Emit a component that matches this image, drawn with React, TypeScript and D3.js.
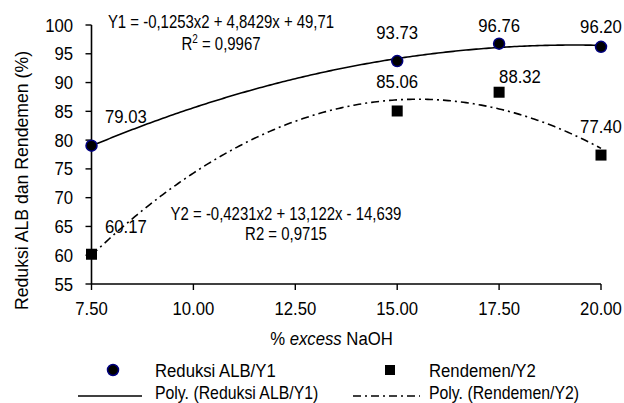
import React from "react";
import * as d3 from "d3";

const xValues = [7.5, 15, 17.5, 20];
const reduksiALB = [79.03, 93.73, 96.76, 96.2];
const rendemen = [60.17, 85.06, 88.32, 77.4];
const xTicks = [7.5, 10, 12.5, 15, 17.5, 20];
const yTicks = [55, 60, 65, 70, 75, 80, 85, 90, 95, 100];
const eqY1 = ["Y1 = -0,1253x2 + 4,8429x + 49,71", "R² = 0,9967"];
const eqY2 = ["Y2 = -0,4231x2 + 13,122x - 14,639", "R2 = 0,9715"];
const yTitle = "Reduksi ALB dan Rendemen  (%)";
const legendNames = ["Reduksi ALB/Y1", "Rendemen/Y2", "Poly. (Reduksi ALB/Y1)", "Poly. (Rendemen/Y2)"];

// label layout offsets (relative to points): [dx, dy, anchor]
const y1LabelOffsets: [number, number, string][] = [[13.5, -23, "start"], [0, -22, "middle"], [0, -12, "middle"], [0, -14, "middle"]];
const y2LabelOffsets: [number, number, string][] = [[13.5, -21, "start"], [0, -23, "middle"], [0, -9, "start"], [0, -22, "middle"]];

function quadFit(xs: number[], ys: number[]) {
  // least squares y = a x^2 + b x + c
  let s0 = xs.length, s1 = 0, s2 = 0, s3 = 0, s4 = 0, t0 = 0, t1 = 0, t2 = 0;
  xs.forEach((x, i) => {
    const y = ys[i];
    s1 += x; s2 += x * x; s3 += x ** 3; s4 += x ** 4;
    t0 += y; t1 += x * y; t2 += x * x * y;
  });
  const M = [[s4, s3, s2, t2], [s3, s2, s1, t1], [s2, s1, s0, t0]];
  for (let i = 0; i < 3; i++) {
    for (let j = i + 1; j < 3; j++) {
      const f = M[j][i] / M[i][i];
      for (let k = i; k < 4; k++) M[j][k] -= f * M[i][k];
    }
  }
  const r = [0, 0, 0];
  for (let i = 2; i >= 0; i--) {
    let s = M[i][3];
    for (let k = i + 1; k < 3; k++) s -= M[i][k] * r[k];
    r[i] = s / M[i][i];
  }
  return (x: number) => r[0] * x * x + r[1] * x + r[2];
}

const FONT = "'Liberation Sans', Arial, sans-serif";

function T({ x, y, anchor = "start", size = 19, sx = 0.88, rotate = 0, children, style }: any) {
  return (
    <text
      transform={`translate(${x},${y}) rotate(${rotate}) scale(${sx},1)`}
      textAnchor={anchor}
      fontSize={size}
      fontFamily={FONT}
      fill="#000"
      style={style}
    >
      {children}
    </text>
  );
}

export default function App() {
  const W = 624, H = 403;
  const x = d3.scaleLinear().domain([7.5, 20]).range([91.5, 601]);
  const y = d3.scaleLinear().domain([55, 100]).range([284, 25]);
  const f1 = quadFit(xValues, reduksiALB);
  const f2 = quadFit(xValues, rendemen);
  const samples = d3.range(0, 201).map((i) => 7.5 + (12.5 * i) / 200);
  const path1 = d3.line<number>().x((d) => x(d)).y((d) => y(f1(d)))(samples) || "";
  const path2 = d3.line<number>().x((d) => x(d)).y((d) => y(f2(d)))(samples) || "";
  const dash = "8,4,2,4";
  const sq = 11;

  return (
    <svg width={W} height={H} style={{ position: "absolute", left: 0, top: 0 }} xmlns="http://www.w3.org/2000/svg">
      <rect width={W} height={H} fill="#fff" />
      {/* trend lines */}
      <path d={path1} fill="none" stroke="#000" strokeWidth={1.6} />
      <path d={path2} fill="none" stroke="#000" strokeWidth={1.6} strokeDasharray={dash} />
      {/* axes */}
      <line x1={x(7.5)} x2={x(7.5)} y1={y(100)} y2={y(55)} stroke="#000" strokeWidth={1.6} />
      <line x1={x(7.5)} x2={x(20)} y1={y(55)} y2={y(55)} stroke="#000" strokeWidth={1.6} />
      {yTicks.map((t) => (
        <g key={"y" + t}>
          <line x1={x(7.5) - 6} x2={x(7.5)} y1={y(t)} y2={y(t)} stroke="#000" strokeWidth={1.4} />
          <T x={73} y={y(t) + 6.5} anchor="end">{String(t)}</T>
        </g>
      ))}
      {xTicks.map((t) => (
        <g key={"x" + t}>
          <line x1={x(t)} x2={x(t)} y1={y(55)} y2={y(55) + 6} stroke="#000" strokeWidth={1.4} />
          <T x={x(t)} y={315} anchor="middle">{t.toFixed(2)}</T>
        </g>
      ))}
      {/* markers */}
      {xValues.map((v, i) => (
        <rect key={"s" + i} x={x(v) - sq / 2} y={y(rendemen[i]) - sq / 2} width={sq} height={sq} fill="#000" />
      ))}
      {xValues.map((v, i) => (
        <circle key={"c" + i} cx={x(v)} cy={y(reduksiALB[i])} r={5.5} fill="#000" stroke="#000080" strokeWidth={1.5} />
      ))}
      {/* data labels */}
      {xValues.map((v, i) => (
        <T key={"l1" + i} x={x(v) + y1LabelOffsets[i][0]} y={y(reduksiALB[i]) + y1LabelOffsets[i][1]} anchor={y1LabelOffsets[i][2]}>
          {reduksiALB[i].toFixed(2)}
        </T>
      ))}
      {xValues.map((v, i) => (
        <T key={"l2" + i} x={x(v) + y2LabelOffsets[i][0]} y={y(rendemen[i]) + y2LabelOffsets[i][1]} anchor={y2LabelOffsets[i][2]}>
          {rendemen[i].toFixed(2)}
        </T>
      ))}
      {/* equations */}
      <T x={221} y={28} anchor="middle" size={18} sx={0.83}>{eqY1[0]}</T>
      <T x={221} y={50} anchor="middle" size={18} sx={0.83}>
        R<tspan dy={-7} fontSize={12}>2</tspan><tspan dy={7}> = 0,9967</tspan>
      </T>
      <T x={286} y={220} anchor="middle" size={18} sx={0.83}>{eqY2[0]}</T>
      <T x={286} y={240} anchor="middle" size={18} sx={0.83}>{eqY2[1]}</T>
      {/* axis titles */}
      <T x={28} y={180.5} anchor="middle" rotate={-90} sx={0.93}>{yTitle}</T>
      <T x={331.5} y={345} anchor="middle">
        % <tspan fontStyle="italic">excess</tspan> NaOH
      </T>
      {/* legend */}
      <circle cx={113} cy={370} r={5.5} fill="#000" stroke="#000080" strokeWidth={1.5} />
      <T x={155} y={377}>{legendNames[0]}</T>
      <rect x={390 - 5} y={370 - 5} width={10} height={10} fill="#000" />
      <T x={429} y={377}>{legendNames[1]}</T>
      <line x1={78} x2={142} y1={396} y2={396} stroke="#000" strokeWidth={1.6} />
      <T x={155} y={399} size={18}>{legendNames[2]}</T>
      <line x1={353} x2={420} y1={396} y2={396} stroke="#000" strokeWidth={1.6} strokeDasharray={dash} />
      <T x={429} y={399} size={18}>{legendNames[3]}</T>
    </svg>
  );
}
